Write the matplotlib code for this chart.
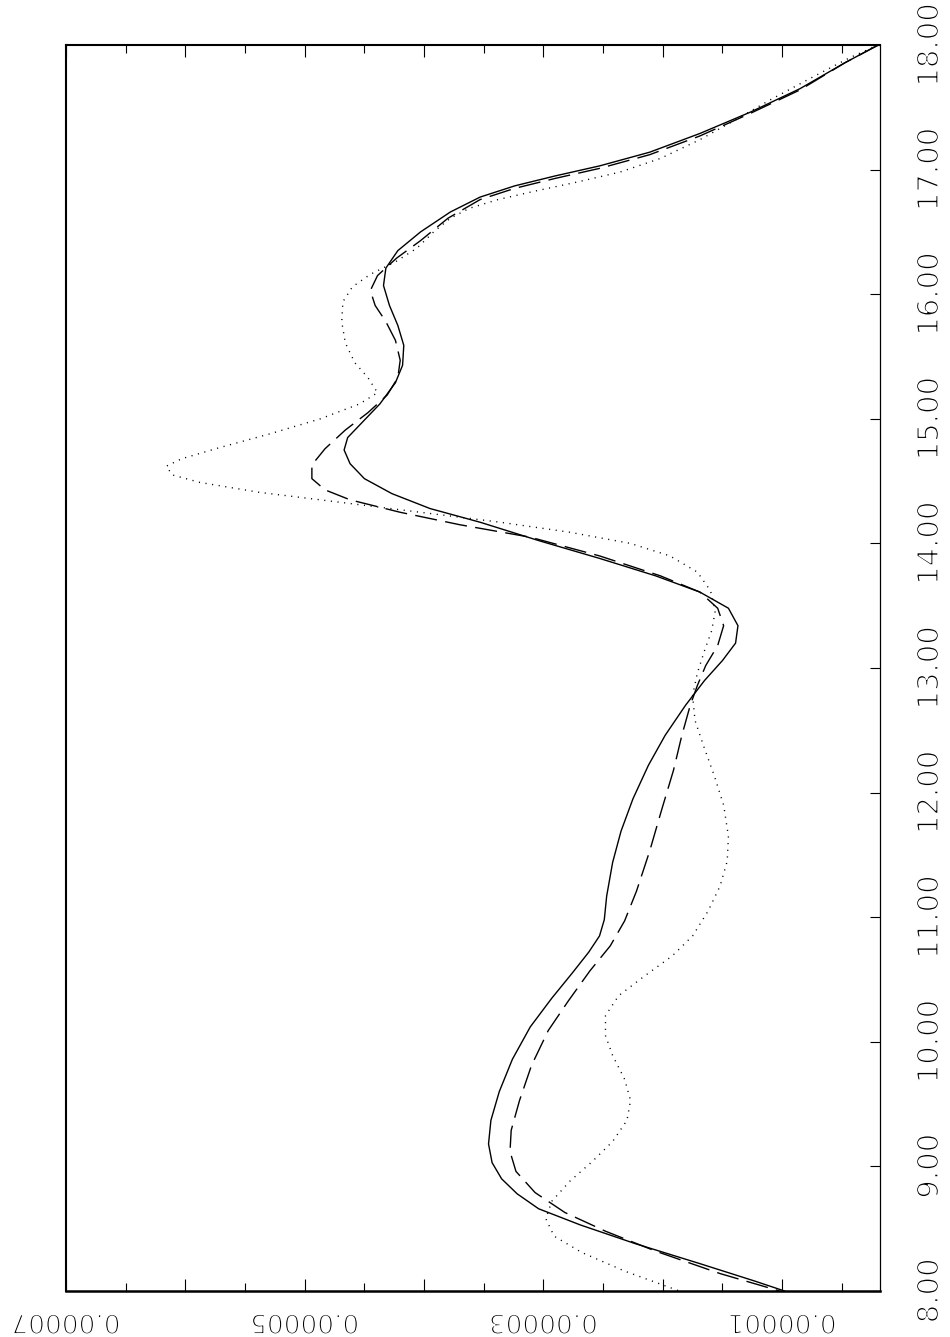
import matplotlib
matplotlib.use("Agg")
import matplotlib.pyplot as plt
import matplotlib.patheffects as pe
from matplotlib.ticker import MultipleLocator, FuncFormatter

# values are stored in units of 1e-5
SCALE = 1e-5

# solid trace
SOLID_T = [18.00, 17.86, 17.65, 17.46, 17.29, 17.14, 17.03, 16.95, 16.87, 16.78,
           16.66, 16.50, 16.35, 16.21, 16.07, 15.91, 15.75, 15.59, 15.43, 15.29,
           15.12, 14.97, 14.85, 14.75, 14.64, 14.52, 14.40, 14.28, 14.17, 14.02,
           13.88, 13.74, 13.61, 13.48, 13.34, 13.20, 13.06, 12.90, 12.70, 12.46,
           12.22, 11.95, 11.69, 11.44, 11.17, 10.98, 10.85, 10.72, 10.55, 10.35,
           10.12, 9.86, 9.60, 9.37, 9.18, 9.03, 8.90, 8.78, 8.66, 8.53,
           8.38, 8.22, 8.08, 8.00]
SOLID_V = [0.195, 0.47, 0.85, 1.27, 1.69, 2.11, 2.53, 2.90, 3.24, 3.53,
           3.78, 4.03, 4.22, 4.32, 4.34, 4.29, 4.22, 4.17, 4.18, 4.24,
           4.37, 4.52, 4.64, 4.67, 4.62, 4.50, 4.27, 3.95, 3.53, 3.03,
           2.53, 2.06, 1.69, 1.45, 1.37, 1.39, 1.50, 1.65, 1.81, 1.98,
           2.12, 2.25, 2.35, 2.42, 2.47, 2.49, 2.53, 2.62, 2.76, 2.93,
           3.11, 3.26, 3.37, 3.44, 3.46, 3.43, 3.35, 3.22, 3.04, 2.69,
           2.23, 1.69, 1.23, 0.98]

# dashed trace
DASH_T = [18.00, 17.86, 17.64, 17.45, 17.27, 17.12, 17.01, 16.93, 16.85, 16.76,
          16.61, 16.43, 16.29, 16.15, 16.03, 15.91, 15.78, 15.63, 15.47, 15.33,
          15.19, 15.05, 14.91, 14.76, 14.63, 14.52, 14.43, 14.35, 14.25, 14.15,
          14.05, 13.90, 13.74, 13.61, 13.48, 13.34, 13.18, 13.02, 12.86, 12.70,
          12.46, 12.18, 11.86, 11.53, 11.21, 10.97, 10.77, 10.57, 10.33, 10.09,
          9.81, 9.53, 9.29, 9.12, 8.96, 8.79, 8.63, 8.48, 8.32, 8.14,
          8.00]
DASH_V = [0.195, 0.47, 0.85, 1.27, 1.69, 2.11, 2.53, 2.90, 3.24, 3.53,
          3.80, 4.03, 4.23, 4.39, 4.45, 4.41, 4.32, 4.24, 4.20, 4.22,
          4.31, 4.47, 4.66, 4.83, 4.94, 4.94, 4.83, 4.62, 4.20, 3.70,
          3.11, 2.53, 2.02, 1.69, 1.54, 1.49, 1.54, 1.64, 1.71, 1.77,
          1.84, 1.91, 2.01, 2.11, 2.22, 2.32, 2.44, 2.61, 2.79, 2.96,
          3.10, 3.20, 3.27, 3.28, 3.23, 3.07, 2.82, 2.48, 2.06, 1.52,
          1.02]

# dotted trace
DOT_T = [18.00, 17.90, 17.73, 17.56, 17.40, 17.24, 17.09, 16.98, 16.90, 16.83,
         16.76, 16.69, 16.61, 16.50, 16.37, 16.26, 16.16, 16.06, 15.94, 15.78,
         15.61, 15.45, 15.33, 15.21, 15.12, 15.00, 14.88, 14.77, 14.68, 14.62,
         14.55, 14.49, 14.41, 14.33, 14.25, 14.17, 14.09, 14.00, 13.90, 13.77,
         13.62, 13.46, 13.30, 13.14, 12.96, 12.78, 12.58, 12.38, 12.14, 11.90,
         11.65, 11.45, 11.25, 11.05, 10.85, 10.69, 10.53, 10.37, 10.21, 10.05,
         9.89, 9.70, 9.53, 9.37, 9.20, 9.04, 8.88, 8.72, 8.58, 8.44,
         8.31, 8.16, 8.00]
DOT_V = [0.195, 0.43, 0.77, 1.10, 1.39, 1.69, 2.02, 2.36, 2.72, 3.06,
         3.38, 3.62, 3.78, 3.92, 4.06, 4.24, 4.45, 4.60, 4.68, 4.69,
         4.66, 4.58, 4.47, 4.39, 4.54, 4.87, 5.29, 5.71, 6.03, 6.16,
         6.11, 5.88, 5.38, 4.70, 4.03, 3.36, 2.78, 2.27, 1.94, 1.71,
         1.60, 1.56, 1.59, 1.65, 1.71, 1.75, 1.73, 1.66, 1.57, 1.49,
         1.45, 1.46, 1.52, 1.62, 1.75, 1.92, 2.15, 2.37, 2.48, 2.48,
         2.42, 2.32, 2.27, 2.30, 2.42, 2.59, 2.78, 2.93, 2.98, 2.91,
         2.68, 2.32, 1.86]

T_RANGE = (8.0, 18.0)
V_RANGE = (7.0, 0.18)


def scaled(vals):
    return [v * SCALE for v in vals]


fig = plt.figure(figsize=(9.5, 13.37), dpi=100)
ax = fig.add_axes([0.0695, 0.0344, 0.8568, 0.9319])

ax.plot(scaled(SOLID_V), SOLID_T, color="black", lw=1.0, ls="-")
ax.plot(scaled(DASH_V), DASH_T, color="black", lw=1.0, ls=(0, (16, 6)))
ax.plot(scaled(DOT_V), DOT_T, color="black", lw=1.0, ls=(0, (0.8, 4)))

ax.set_xlim(V_RANGE[0] * SCALE, V_RANGE[1] * SCALE)
ax.set_ylim(*T_RANGE)

# value axis: ticks every 0.000005, labels on odd multiples of 0.00001
ax.xaxis.set_major_locator(MultipleLocator(1e-5))
ax.xaxis.set_minor_locator(MultipleLocator(0.5e-5))


def value_label(x, pos):
    k = int(round(x / 1e-5))
    return f"{x:.5f}" if k % 2 == 1 else ""


ax.xaxis.set_major_formatter(FuncFormatter(value_label))
ax.yaxis.set_major_locator(MultipleLocator(1.0))
ax.yaxis.set_major_formatter(FuncFormatter(lambda y, pos: f"{y:.2f}"))
ax.yaxis.tick_right()

ax.tick_params(axis="x", which="major", direction="in", length=8.5, width=0.8,
               top=True, bottom=True, labelsize=19, labelrotation=180, pad=22)
ax.tick_params(axis="x", which="minor", direction="in", length=5.5, width=0.8,
               top=True, bottom=True)
ax.tick_params(axis="y", which="major", direction="in", length=7, width=0.8,
               right=True, left=False, labelsize=21, labelrotation=90, pad=26)

thin = [pe.Stroke(linewidth=1.1, foreground="white")]
for lbl in ax.get_xticklabels() + ax.get_yticklabels():
    lbl.set_path_effects(thin)
    lbl.set_va("center")

ax.spines["left"].set_linewidth(1.5)
ax.spines["top"].set_linewidth(1.5)
ax.spines["bottom"].set_linewidth(1.8)
ax.spines["right"].set_linewidth(0.9)

fig.savefig("out.png", dpi=100)
